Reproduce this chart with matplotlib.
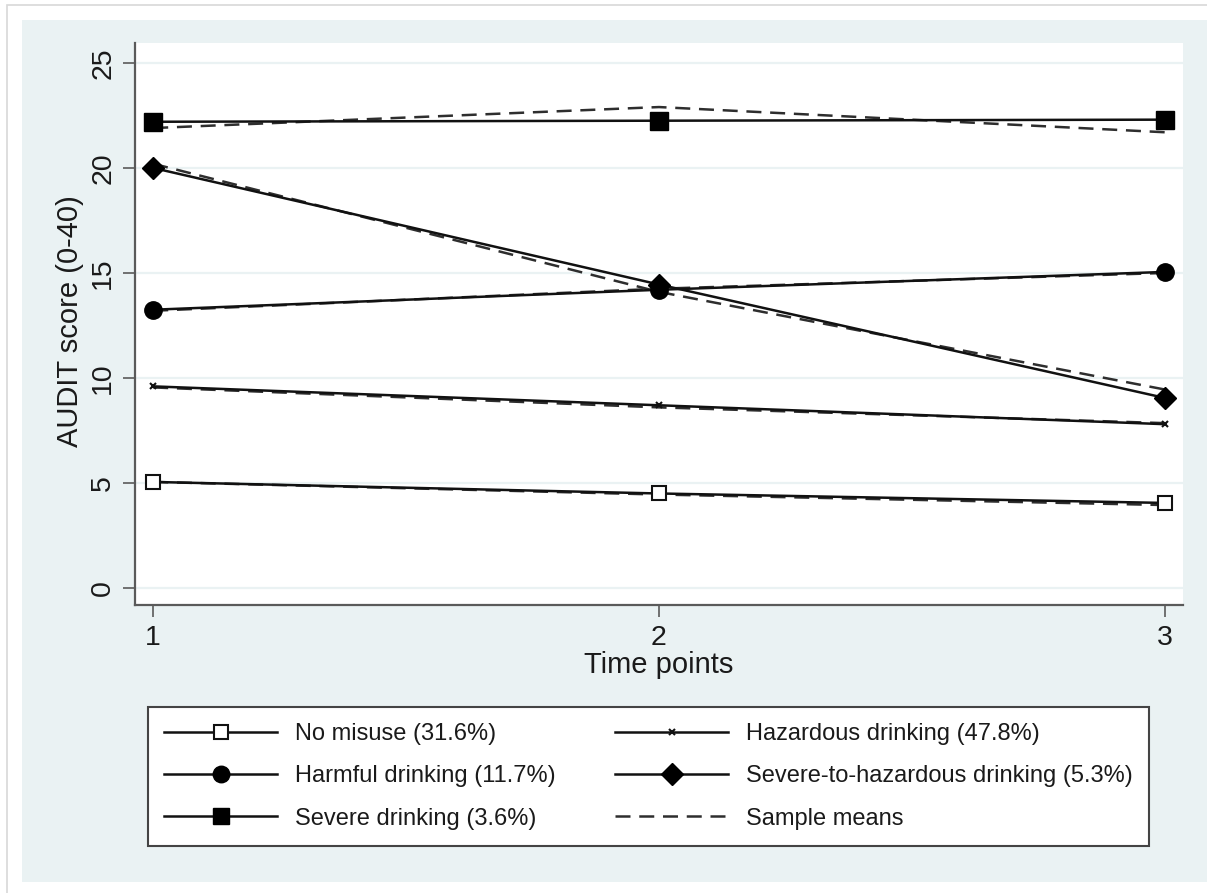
import numpy as np
import matplotlib.pyplot as plt
from matplotlib.patches import Rectangle
from matplotlib.lines import Line2D

plt.rcParams['font.family'] = ['Liberation Sans', 'DejaVu Sans']

# Data
time_points = [1, 2, 3]

no_misuse = [5.05, 4.5, 4.05]
hazardous = [9.6, 8.7, 7.8]
harmful = [13.25, 14.2, 15.05]
severe_to_haz = [20.0, 14.45, 9.05]
severe = [22.2, 22.25, 22.3]

# sample means (dashed)
means_no_misuse = [5.05, 4.45, 3.95]
means_hazardous = [9.55, 8.6, 7.85]
means_harmful = [13.2, 14.25, 15.0]
means_severe_to_haz = [20.2, 14.1, 9.45]
means_severe = [21.9, 22.9, 21.7]

labels = ["No misuse (31.6%)", "Hazardous drinking (47.8%)",
          "Harmful drinking (11.7%)", "Severe-to-hazardous drinking (5.3%)",
          "Severe drinking (3.6%)", "Sample means"]

W, H = 1207, 893
fig = plt.figure(figsize=(W / 100, H / 100), dpi=100)
fig.patch.set_facecolor('white')

bg = '#eaf2f3'
txt = '#1a1a1a'
axcol = '#5a5a5a'

# outer frame and graph region
fig.patches.append(Rectangle((7 / W, 1 - 900 / H), 1.2, (900 - 5) / H, transform=fig.transFigure,
                             facecolor='white', edgecolor='#d8d8d8', lw=1.2, zorder=-10))
fig.patches.append(Rectangle((22 / W, 1 - 882 / H), 1.2, (882 - 20) / H, transform=fig.transFigure,
                             facecolor=bg, edgecolor='none', zorder=-9))

ax = fig.add_axes([135 / W, 1 - 605 / H, (1183 - 135) / W, (605 - 43) / H])
ax.set_facecolor('white')

lw = 1.8
dash = (0, (6, 3.5))
dcol = '#2e2e2e'
for m in [means_no_misuse, means_hazardous, means_harmful, means_severe_to_haz, means_severe]:
    ax.plot(time_points, m, color=dcol, lw=lw, linestyle=dash, zorder=3)

h_no, = ax.plot(time_points, no_misuse, color='#111', lw=lw, marker='s', ms=10.5,
                mfc='white', mec='#111', mew=1.5, zorder=4)
h_haz, = ax.plot(time_points, hazardous, color='#111', lw=lw, marker='x', ms=5,
                 mec='#111', mew=1.5, zorder=4)
h_harm, = ax.plot(time_points, harmful, color='#111', lw=lw, marker='o', ms=12.5,
                  mfc='#000', mec='#000', zorder=4)
h_sth, = ax.plot(time_points, severe_to_haz, color='#111', lw=lw, marker='D', ms=11.5,
                 mfc='#000', mec='#000', zorder=4)
h_sev, = ax.plot(time_points, severe, color='#111', lw=lw, marker='s', ms=12.5,
                 mfc='#000', mec='#000', zorder=4)
h_mean = Line2D([], [], color=dcol, lw=lw, linestyle=dash)

ax.set_xlim(0.964, 3.036)
ax.set_ylim(-0.81, 25.95)
ax.set_xticks(time_points)
ax.set_yticks([0, 5, 10, 15, 20, 25])
ax.yaxis.grid(True, color=bg, lw=1.6, zorder=0)
ax.set_axisbelow(True)

for s in ['top', 'right']:
    ax.spines[s].set_visible(False)
for s in ['left', 'bottom']:
    ax.spines[s].set_color(axcol)
    ax.spines[s].set_linewidth(1.6)

ax.tick_params(axis='both', direction='out', length=8.5, width=1.2, color=axcol,
               labelsize=20.5, labelcolor=txt)
ax.tick_params(axis='y', pad=5, labelrotation=90)
ax.tick_params(axis='x', pad=6)
for t in ax.get_yticklabels():
    t.set_va('center')

ax.set_xlabel("Time points", fontsize=21, color=txt, labelpad=0)
ax.set_ylabel("AUDIT score (0-40)", fontsize=21, color=txt)
ax.yaxis.set_label_coords((84 - 135) / 1048, 0.505)

leg = fig.legend([h_no, h_harm, h_sev, h_haz, h_sth, h_mean],
                 [labels[0], labels[2], labels[4], labels[1], labels[3], labels[5]],
                 ncol=2, loc='upper left', bbox_to_anchor=(148 / W, 1 - 707 / H),
                 bbox_transform=fig.transFigure, borderaxespad=0,
                 fontsize=17, frameon=True, fancybox=False, framealpha=1,
                 handlelength=4.8, handletextpad=0.76, columnspacing=2.5,
                 labelspacing=0.86, borderpad=0.68, markerscale=0.95)
leg.get_frame().set_edgecolor('#444')
leg.get_frame().set_facecolor('white')
leg.get_frame().set_linewidth(1.5)
for t in leg.get_texts():
    t.set_color(txt)

fig.savefig('out.png', dpi=100, facecolor='white')
